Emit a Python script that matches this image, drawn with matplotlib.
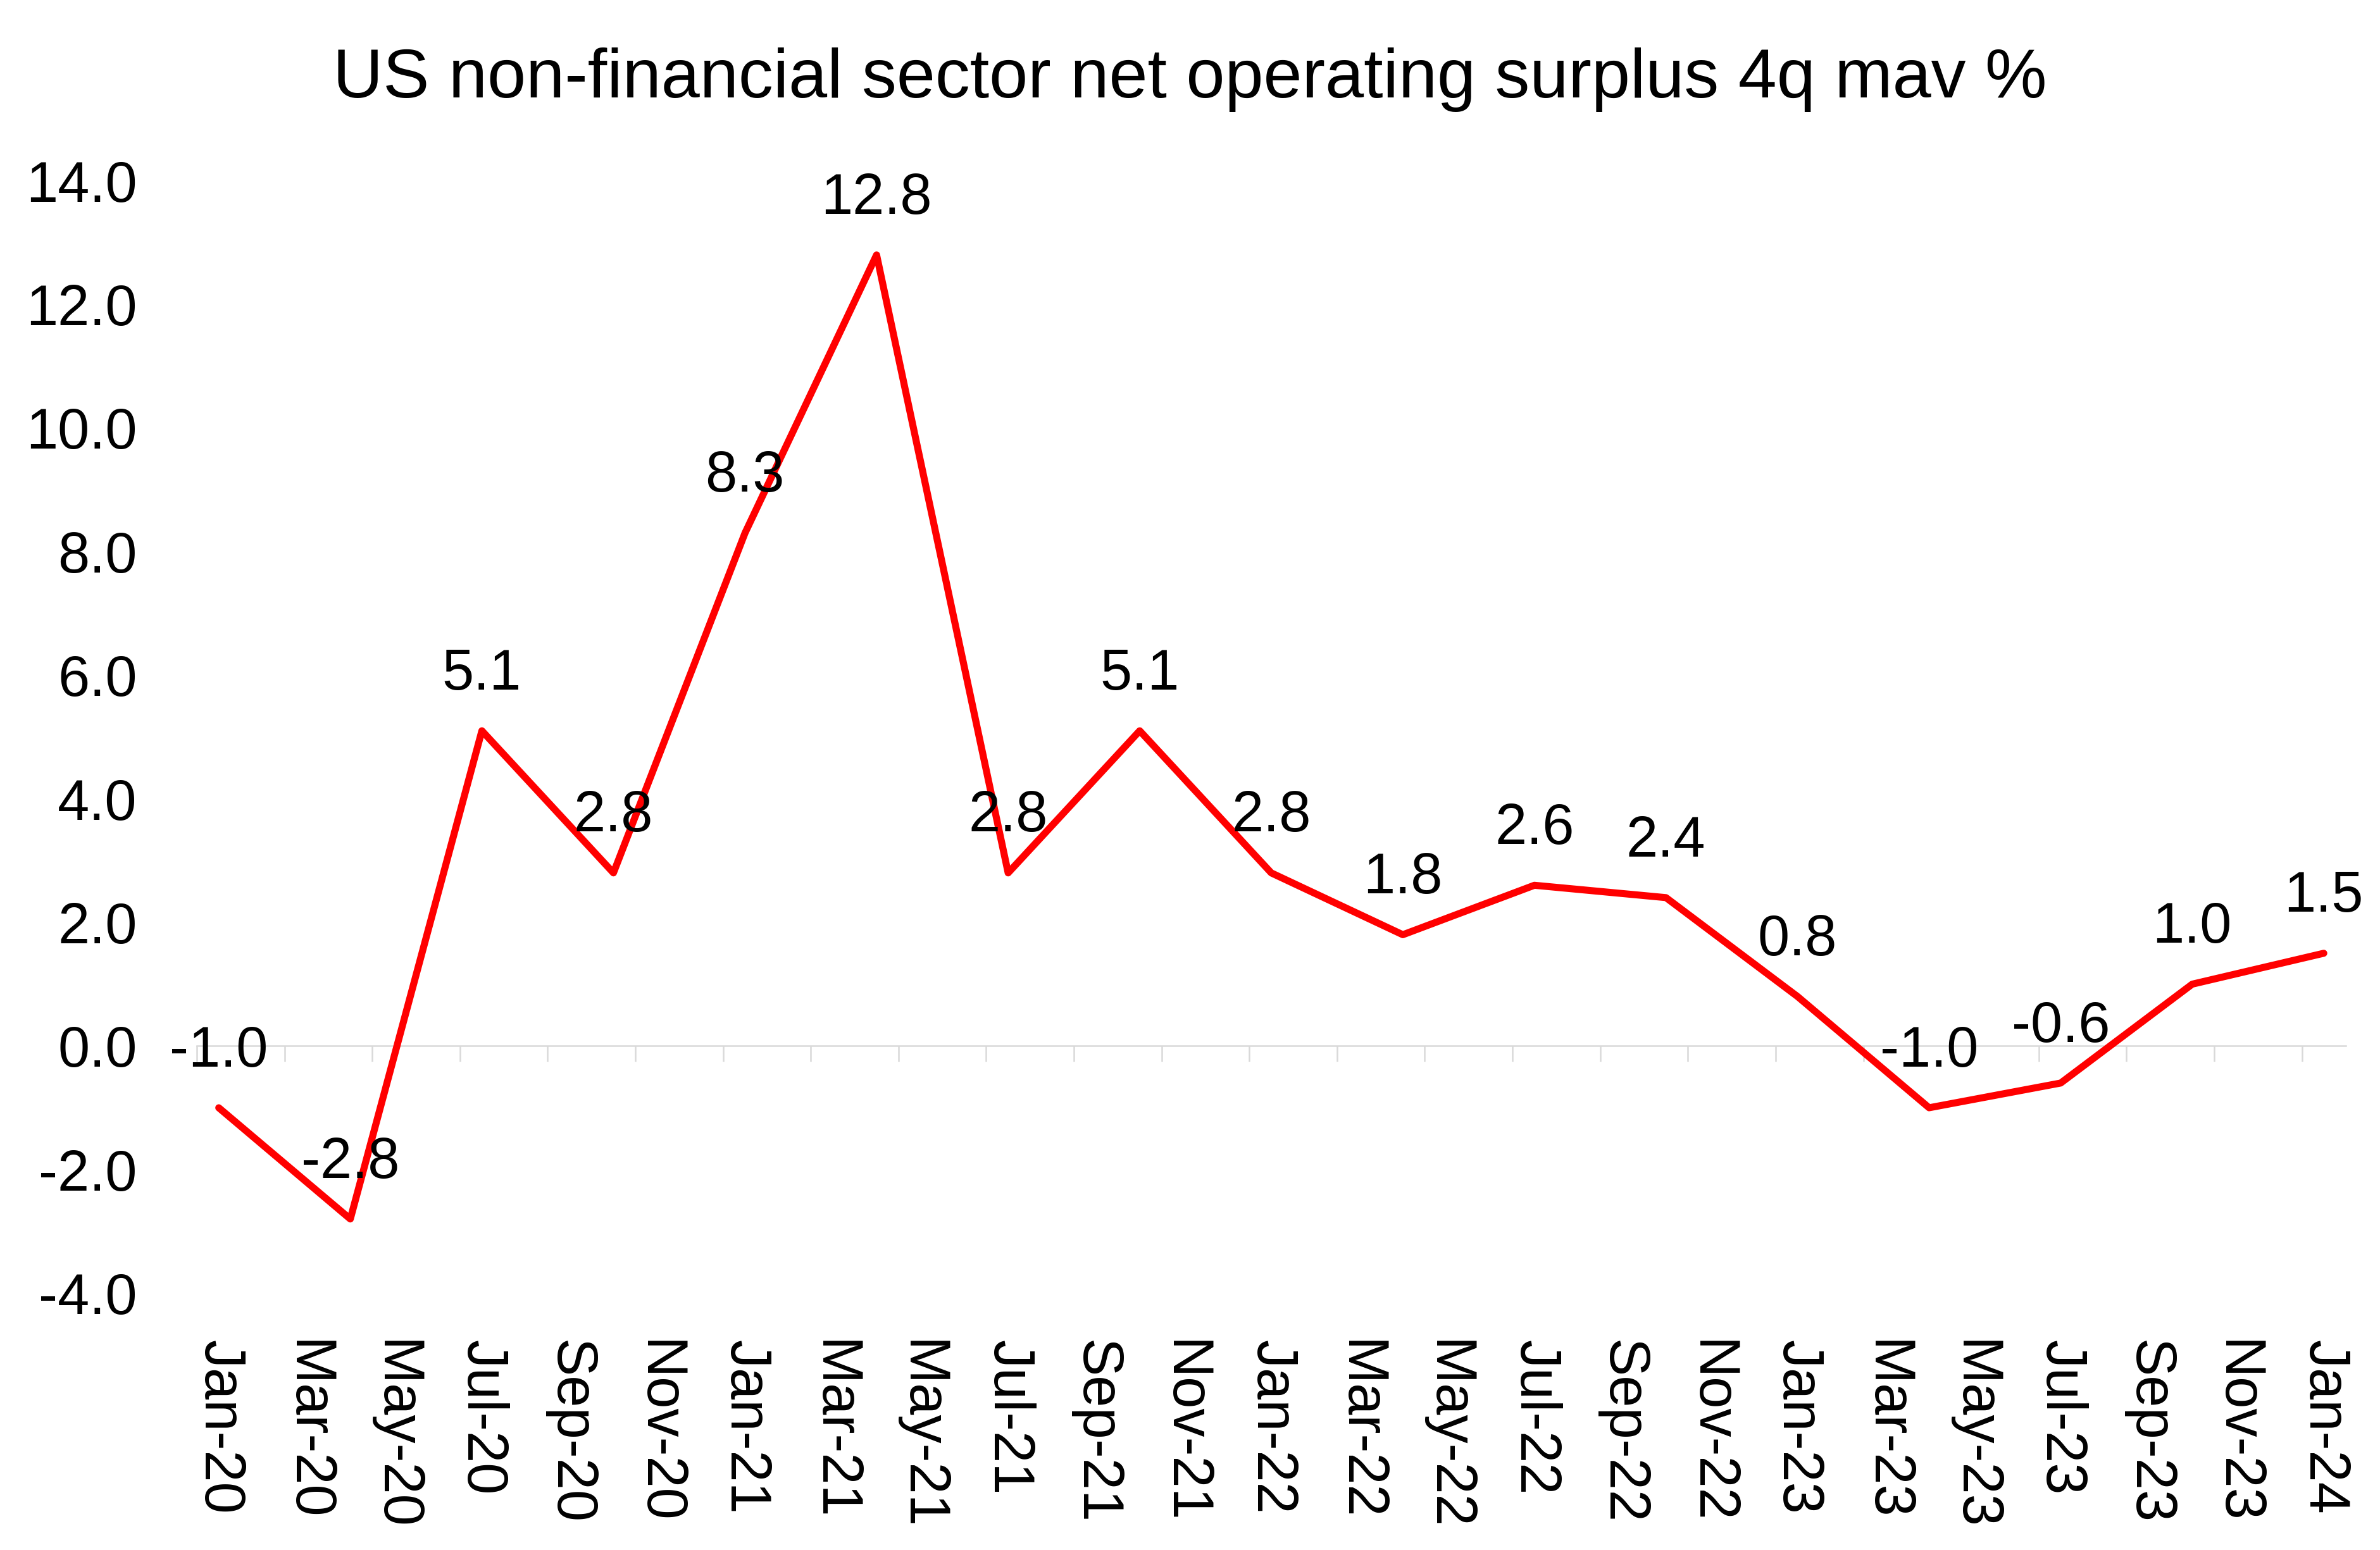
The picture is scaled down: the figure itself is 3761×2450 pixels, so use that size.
import matplotlib
matplotlib.use("Agg")
import matplotlib.pyplot as plt
import pandas as pd

# ---------------- data ----------------
quarters = ["2020-01", "2020-04", "2020-07", "2020-10",
            "2021-01", "2021-04", "2021-07", "2021-10",
            "2022-01", "2022-04", "2022-07", "2022-10",
            "2023-01", "2023-04", "2023-07", "2023-10",
            "2024-01"]
surplus = [-1.0, -2.8, 5.1, 2.8,
           8.3, 12.8, 2.8, 5.1,
           2.8, 1.8, 2.6, 2.4,
           0.8, -1.0, -0.6, 1.0,
           1.5]
x_labels = ["Jan-20", "Mar-20", "May-20", "Jul-20", "Sep-20", "Nov-20",
            "Jan-21", "Mar-21", "May-21", "Jul-21", "Sep-21", "Nov-21",
            "Jan-22", "Mar-22", "May-22", "Jul-22", "Sep-22", "Nov-22",
            "Jan-23", "Mar-23", "May-23", "Jul-23", "Sep-23", "Nov-23",
            "Jan-24"]
y_ticks = [-4, -2, 0, 2, 4, 6, 8, 10, 12, 14]
title = "US non-financial sector net operating surplus 4q mav %"

# ---------------- style ----------------
plt.rcParams['font.family'] = ['Liberation Sans', 'DejaVu Sans']
plt.rcParams['axes.unicode_minus'] = False
FS = 65
GRAY = "#d9d9d9"

start = pd.Period("2020-01", freq="M")
def month_index(s):
    return (pd.Period(s, freq="M") - start).n

xq = [month_index(q) for q in quarters]
label_months = [month_index(pd.to_datetime(l, format="%b-%y").strftime("%Y-%m")) for l in x_labels]
boundaries = [m - 0.5 for m in label_months]

fig = plt.figure(figsize=(37.61, 24.5), dpi=100)
ax = fig.add_axes([0.0827, 0.1657, 0.9856 - 0.0827, 0.8834 - 0.1657])

ax.plot(xq, surplus, color="#ff0000", lw=8, solid_joinstyle="round",
        solid_capstyle="round", zorder=5)

for x, v in zip(xq, surplus):
    ax.annotate(f"{v:.1f}", xy=(x, v), xytext=(0, 47), textcoords="offset points",
                ha="center", va="baseline", fontsize=FS, color="black", zorder=6)

ax.set_xlim(-0.5, label_months[-1] + 0.5)
ax.set_ylim(y_ticks[0], y_ticks[-1])

ax.set_yticks(y_ticks)
ax.set_yticklabels([f"{v:.1f}" for v in y_ticks])
ax.set_xticks(label_months)
ax.set_xticklabels(x_labels, rotation=-90)
ax.tick_params(axis="y", length=0, pad=68, labelsize=FS)
ax.tick_params(axis="x", length=0, pad=53, labelsize=FS)
for s in ax.spines.values():
    s.set_visible(False)

# zero axis line with tick marks at month boundaries
zero_loc = (0 - y_ticks[0]) / (y_ticks[-1] - y_ticks[0])
sec = ax.secondary_xaxis(zero_loc)
sec.set_xticks(boundaries)
sec.tick_params(axis="x", direction="out", length=18, width=1.8, color=GRAY,
                labelbottom=False, labeltop=False)
sec.spines["bottom"].set_color(GRAY)
sec.spines["bottom"].set_linewidth(1.8)

fig.text(0.5, 0.9373, title, ha="center", va="baseline", fontsize=79, color="black")

fig.savefig("out.png", dpi=100, facecolor="white")
